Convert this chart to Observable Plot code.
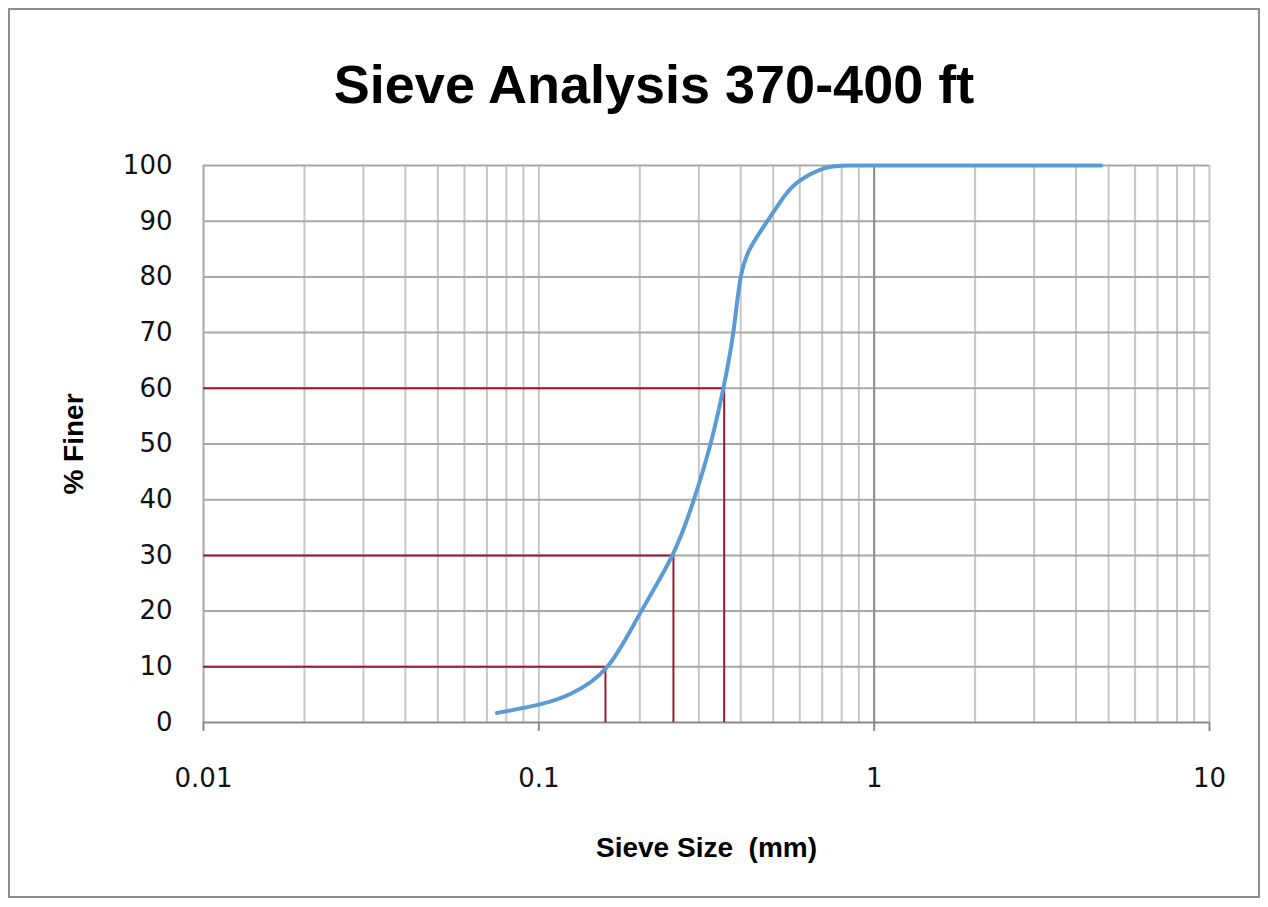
<!DOCTYPE html>
<html>
<head>
<meta charset="utf-8">
<script src="https://cdn.jsdelivr.net/npm/d3@7"></script>
<script src="https://cdn.jsdelivr.net/npm/@observablehq/plot@0.6"></script>
<style>
  html, body { margin: 0; padding: 0; background: #fff; }
  #wrap { position: relative; width: 1268px; height: 907px; overflow: hidden; background: #fff; }
  #border { position: absolute; left: 8px; top: 8px; width: 1252px; height: 890px; border: 2px solid #8e8e8e; box-sizing: border-box; }
  #title { position: absolute; left: 0; top: 57px; width: 1308px; text-align: center;
           font-family: "Liberation Sans", Arial, sans-serif; font-weight: bold; font-size: 54px; line-height: 54px; color: #000; }
  #chart { position: absolute; left: 0; top: 0; }
</style>
</head>
<body>
<div id="wrap">
  <div id="border"></div>
  <div id="title">Sieve Analysis 370-400 ft</div>
  <div id="chart"></div>
</div>
<script>
// Grain size distribution
const sieveSize = [0.075, 0.1, 0.125, 0.16, 0.2, 0.25, 0.29, 0.325, 0.355, 0.38, 0.4, 0.43, 0.48, 0.54, 0.6, 0.71, 0.85, 1.18, 2.0, 4.75];
const percentFiner = [1.7, 3.2, 5.2, 10, 19.5, 30, 40, 50, 60, 70, 80, 85.5, 90, 94.5, 97.3, 99.5, 100, 100, 100, 100];

// Characteristic diameters D10, D30, D60
const dLabels = ["D10", "D30", "D60"];
const dPercent = [10, 30, 60];
const dSize = [0.158, 0.252, 0.357];

// Axis ticks
const xMajorTicks = [0.01, 0.1, 1, 10];
const xTickLabels = ["0.01", "0.1", "1", "10"];
const yTicks = [0, 10, 20, 30, 40, 50, 60, 70, 80, 90, 100];

const xDomain = [0.01, 10];
const xMinor = [];
for (const decade of [0.01, 0.1, 1]) for (let k = 2; k <= 9; k++) xMinor.push(+(decade * k).toPrecision(3));

const curve = sieveSize.map((s, i) => ({size: s, finer: percentFiner[i]}));
const dRows = dLabels.map((l, i) => ({label: l, size: dSize[i], finer: dPercent[i]}));
const xLabelRows = xMajorTicks.map((t, i) => ({t, label: xTickLabels[i]}));

const tickFont = "DejaVu Sans, Verdana, sans-serif";
const titleFont = "Liberation Sans, Arial, sans-serif";

const chart = Plot.plot({
  width: 1268,
  height: 907,
  marginLeft: 203,
  marginRight: 59,
  marginTop: 165,
  marginBottom: 185,
  style: {background: "transparent", overflow: "visible"},
  x: {type: "log", domain: xDomain, axis: null},
  y: {domain: [0, 100], axis: null},
  marks: [
    // grid
    Plot.ruleX(xMinor, {stroke: "#c6c6c6", strokeWidth: 2}),
    Plot.ruleX([0.1, 10], {stroke: "#c6c6c6", strokeWidth: 2}),
    Plot.ruleY(yTicks.filter(d => d > 0), {stroke: "#a8a8a8", strokeWidth: 2}),
    Plot.ruleX([1], {stroke: "#8a8a8a", strokeWidth: 2}),
    Plot.ruleX([0.01], {stroke: "#a8a8a8", strokeWidth: 2}),
    Plot.ruleY([0], {stroke: "#8a8a8a", strokeWidth: 2}),
    // axes
    Plot.text(yTicks, {
      y: d => d, text: d => String(d), frameAnchor: "left", textAnchor: "end", dx: -31,
      fontFamily: tickFont, fontSize: 26, fill: "#111"
    }),
    Plot.ruleX(xMajorTicks, {x: d => d, y1: 0, y2: -1.6, stroke: "#8a8a8a", strokeWidth: 2}),
    Plot.text(xLabelRows, {
      x: "t", text: "label", frameAnchor: "bottom", lineAnchor: "middle", dy: 56,
      fontFamily: tickFont, fontSize: 26, fill: "#111"
    }),
    // D10/D30/D60 guide lines
    Plot.ruleY(dRows, {y: "finer", x1: xDomain[0], x2: "size", stroke: "#9c1a30", strokeWidth: 2}),
    Plot.ruleX(dRows, {x: "size", y1: 0, y2: "finer", stroke: "#9c1a30", strokeWidth: 2}),
    // gradation curve
    Plot.line(curve, {x: "size", y: "finer", curve: "natural", stroke: "#5b9bd5", strokeWidth: 4}),
    // axis titles
    Plot.text(["Sieve Size  (mm)"], {
      frameAnchor: "bottom", lineAnchor: "middle", dy: 126, text: d => d,
      fontFamily: titleFont, fontWeight: "bold", fontSize: 28, fill: "#000"
    }),
    Plot.text(["% Finer"], {
      frameAnchor: "left", textAnchor: "middle", lineAnchor: "middle", dx: -129, rotate: -90, text: d => d,
      fontFamily: titleFont, fontWeight: "bold", fontSize: 28, fill: "#000"
    })
  ]
});
document.getElementById("chart").appendChild(chart);
</script>
</body>
</html>
